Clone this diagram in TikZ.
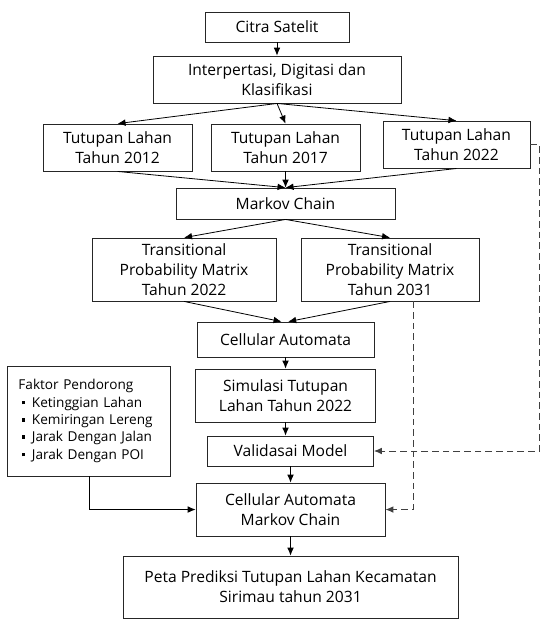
\documentclass[tikz,border=0pt]{standalone}
\usepackage{fontspec}
\setmainfont{Open Sans}
\usepackage{tikz}
\usetikzlibrary{arrows.meta}
\newcommand{\pbullet}{\hspace*{2.5pt}\rule[2.2pt]{2.6pt}{2.6pt}\hspace{5pt}}

\begin{document}
\begin{tikzpicture}[->,>={Latex[length=6pt,width=5pt]},semithick,node distance=42pt]
\tikzstyle{box}=[draw=black!85,fill=white,rectangle,align=center,inner sep=1pt,
  font=\fontsize{11.7}{15}\selectfont]
\tikzstyle{dline}=[dash pattern=on 5pt off 3pt,line width=0.7pt,draw=black!75]
\useasboundingbox (0,0) rectangle (406.5pt,-464.25pt);
\node[box,minimum width=108pt,minimum height=22.5pt] (1) at (207.75pt,-20.25pt) {Citra Satelit};
\node[box,minimum width=186pt,minimum height=35.25pt] (2) [below of=1,node distance=39.4pt] {Interpertasi, Digitasi dan\\Klasifikasi};
\node[box,minimum width=111.75pt,minimum height=35.25pt] (4) [below of=2,node distance=51pt,xshift=6.4pt] {Tutupan Lahan\\Tahun 2017};
\node[box,minimum width=111.75pt,minimum height=35.25pt] (3) [left of=4,node distance=126pt] {Tutupan Lahan\\Tahun 2012};
\node[box,minimum width=110.25pt,minimum height=35.25pt] (5) [right of=4,node distance=128.2pt,yshift=2.2pt] {Tutupan Lahan\\Tahun 2022};
\node[box,minimum width=164.25pt,minimum height=23.25pt] (6) [below of=4] {Markov Chain};
\node[box,minimum width=138pt,minimum height=47.25pt] (7) [below of=6,node distance=49.5pt,xshift=-76.1pt] {Transitional\\Probability Matrix\\Tahun 2022};
\node[box,minimum width=133.5pt,minimum height=47.25pt] (8) [right of=7,node distance=154.5pt] {Transitional\\Probability Matrix\\Tahun 2031};
\node[box,minimum width=132.75pt,minimum height=26.25pt] (9) [below of=6,node distance=102pt] {Cellular Automata};
\node[box,minimum width=135pt,minimum height=39.75pt] (10) [below of=9] {Simulasi Tutupan\\Lahan Tahun 2022};
\node[box,align=left,text width=106pt,inner sep=8pt,minimum height=82.5pt,
  font=\fontsize{10.2}{13}\selectfont] (11) [left of=10,node distance=147.3pt,yshift=-19.1pt]
  {Faktor Pendorong\\ \pbullet Ketinggian Lahan\\ \pbullet Kemiringan Lereng\\
   \pbullet Jarak Dengan Jalan\\ \pbullet Jarak Dengan POI};
\node[box,minimum width=124.5pt,minimum height=22.5pt] (12) [below of=10,node distance=41.6pt,xshift=3.75pt] {Validasai Model};
\node[box,minimum width=141.75pt,minimum height=39.75pt] (13) [below of=12,node distance=43.9pt] {Cellular Automata\\Markov Chain};
\node[box,minimum width=251.25pt,minimum height=46.5pt] (14) [below of=13,node distance=58.1pt] {Peta Prediksi Tutupan Lahan Kecamatan\\Sirimau tahun 2031};
\path (1) edge (2)
      (2.south) edge (3.north)
                edge (4.north)
                edge (5.north)
      (3.south) edge (6.north)
      (4.south) edge (6.north)
      (5.south) edge (6.north)
      (6.south) edge (7.north)
                edge (8.north)
      (7.south) edge ([xshift=-3pt]9.north)
      (8.south) edge ([xshift=2pt]9.north)
      (9) edge (10)
      (10.south) edge (10.south |- 12.north)
      (12) edge (13)
      (13) edge (14);
\draw (11.south) |- (13.west);
\draw[dline] (5.east) -- ++(6.75pt,0) |- (12.east);
\draw[dline] ([xshift=17.25pt]8.south) |- (13.east);
\end{tikzpicture}
\end{document}
